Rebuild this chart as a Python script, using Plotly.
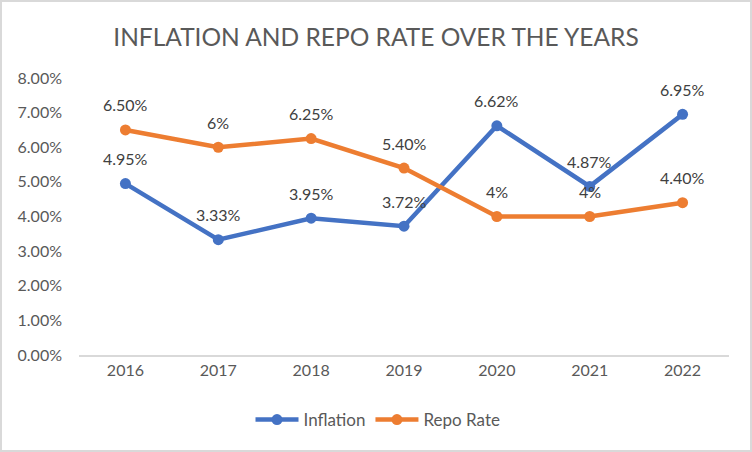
import plotly.graph_objects as go

years = ['2016', '2017', '2018', '2019', '2020', '2021', '2022']
inflation = [4.95, 3.33, 3.95, 3.72, 6.62, 4.87, 6.95]
repo_rate = [6.50, 6.00, 6.25, 5.40, 4.00, 4.00, 4.40]
inflation_labels = ['4.95%', '3.33%', '3.95%', '3.72%', '6.62%', '4.87%', '6.95%']
repo_labels = ['6.50%', '6%', '6.25%', '5.40%', '4%', '4%', '4.40%']
y_ticks = [0, 1, 2, 3, 4, 5, 6, 7, 8]
y_tick_text = ['%.2f%%' % v for v in y_ticks]

W, H = 752, 452
ml, mr, mt, mb = 79, 23, 78, 97
pw = W - ml - mr
ph = H - mt - mb

blue = '#4472C4'
orange = '#ED7D31'

fig = go.Figure()

fig.add_trace(go.Scatter(
    x=years, y=inflation, name='Inflation',
    mode='lines+markers',
    line=dict(color=blue, width=4.5),
    marker=dict(size=11, color=blue)
))

fig.add_trace(go.Scatter(
    x=years, y=repo_rate, name='Repo Rate',
    mode='lines+markers',
    line=dict(color=orange, width=4.5),
    marker=dict(size=11, color=orange)
))

# data labels sit about 25px above each point (x given as category index)
annotations = []
for vals, labels in [(inflation, inflation_labels), (repo_rate, repo_labels)]:
    for i, (v, t) in enumerate(zip(vals, labels)):
        annotations.append(dict(
            x=i, y=v, text=t, showarrow=False, yshift=25,
            font=dict(size=16, color='#404040', family='Lato, sans-serif')))

fig.update_layout(
    width=W, height=H,
    margin=dict(l=ml, r=mr, t=mt, b=mb),
    paper_bgcolor='white', plot_bgcolor='white',
    font=dict(family='Lato, sans-serif', color='#595959'),
    title=dict(text='INFLATION AND REPO RATE OVER THE YEARS',
               x=0.5, xanchor='center', y=1 - 37 / H, yanchor='middle',
               font=dict(size=24.5, color='#595959', family='Lato, sans-serif')),
    xaxis=dict(type='category', range=[-0.5, len(years) - 0.5],
               showgrid=False, showline=True, linecolor='#d9d9d9', linewidth=1.5,
               ticks='', tickfont=dict(size=16, color='#595959')),
    yaxis=dict(range=[0, 8], tickvals=y_ticks, ticktext=y_tick_text,
               showgrid=False, zeroline=False, showline=False, ticks='',
               ticklabelstandoff=16,
               tickfont=dict(size=16, color='#595959')),
    legend=dict(orientation='h', x=(378 - ml) / pw, xanchor='center',
                y=(H - 420 - mb) / ph, yanchor='middle',
                itemwidth=43,
                font=dict(size=17, color='#595959')),
    annotations=annotations,
    shapes=[dict(type='rect', xref='paper', yref='paper',
                 x0=-(ml - 1) / pw, x1=1 + (mr - 1) / pw,
                 y0=-(mb - 1) / ph, y1=1 + (mt - 1) / ph,
                 line=dict(color='#d9d9d9', width=2))]
)

fig.write_html('out.html', config={'displayModeBar': False},
               post_script="document.body.style.margin='0';")
